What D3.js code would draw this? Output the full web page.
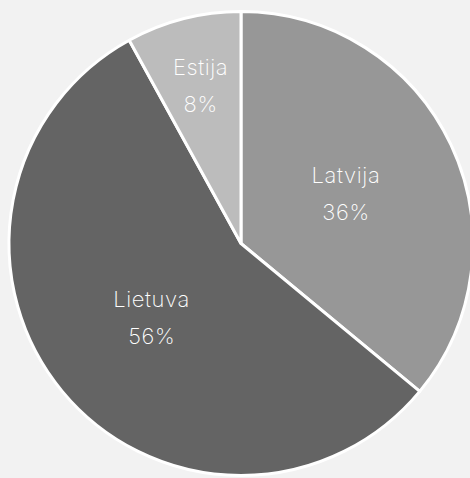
<!DOCTYPE html>
<html>
<head>
<meta charset="utf-8">
<script src="https://cdn.jsdelivr.net/npm/d3@7/dist/d3.min.js"></script>
<style>
  html, body { margin: 0; padding: 0; background: #f2f2f2; overflow: hidden; }
  svg { display: block; }
</style>
</head>
<body>
<svg id="chart" width="470" height="478"></svg>
<script>
const categories = ["Latvija", "Lietuva", "Estija"];
const values = [36, 56, 8];
const colors = ["#979797", "#646464", "#bcbcbc"];

const width = 470, height = 478;
const cx = 241, cy = 243.5, radius = 232;

const svg = d3.select("#chart");
const g = svg.append("g").attr("transform", `translate(${cx},${cy})`);

const data = categories.map((c, i) => ({ name: c, value: values[i], color: colors[i] }));
const pie = d3.pie().value(d => d.value).sort(null);
const arcs = pie(data);
const arc = d3.arc().innerRadius(0).outerRadius(radius);

g.selectAll("path.slice")
  .data(arcs)
  .enter().append("path")
  .attr("class", "slice")
  .attr("d", arc)
  .attr("fill", d => d.data.color)
  .attr("stroke", "#ffffff")
  .attr("stroke-width", 3)
  .attr("stroke-linejoin", "round");

const total = d3.sum(values);
const labelArcBig = d3.arc().innerRadius(radius * 0.5).outerRadius(radius * 0.5);
const labelArcSmall = d3.arc().innerRadius(radius * 0.7).outerRadius(radius * 0.7);

const labels = g.selectAll("text.lbl")
  .data(arcs)
  .enter().append("text")
  .attr("class", "lbl")
  .attr("transform", d => {
    const a = (d.data.value / total < 0.1 ? labelArcSmall : labelArcBig).centroid(d);
    return `translate(${a[0]},${a[1]})`;
  })
  .attr("text-anchor", "middle")
  .attr("fill", "#ffffff")
  .style("font-family", "Inter, sans-serif")
  .style("font-weight", 200)
  .style("font-size", "22px")
  .style("letter-spacing", "0.6px");

labels.append("tspan")
  .attr("x", 0)
  .attr("y", -18.5)
  .attr("dy", "0.35em")
  .text(d => d.data.name);
labels.append("tspan")
  .attr("x", 0)
  .attr("y", 18.5)
  .attr("dy", "0.35em")
  .text(d => Math.round(d.data.value / total * 100) + "%");
</script>
</body>
</html>
